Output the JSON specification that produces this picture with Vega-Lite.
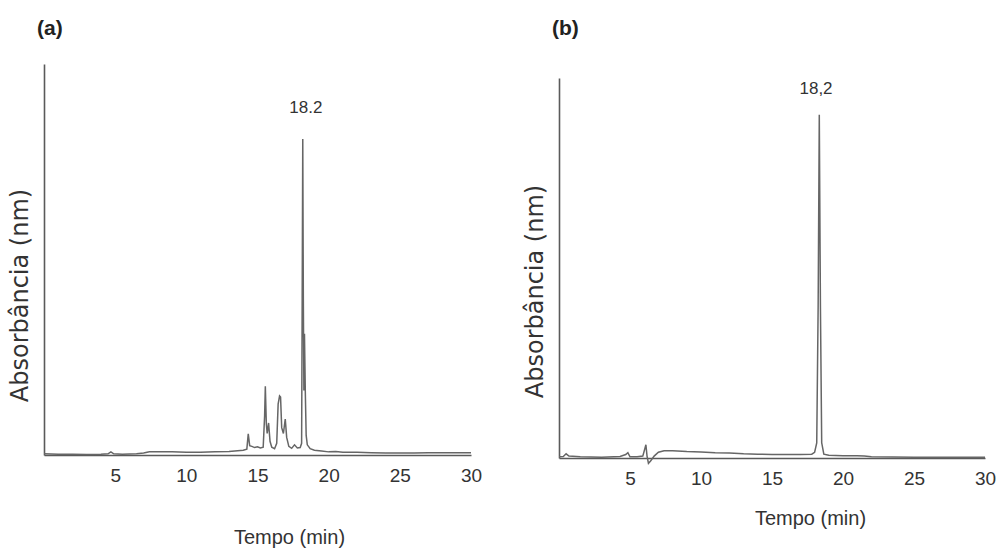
{
  "$schema": "https://vega.github.io/schema/vega-lite/v6.json",
  "background": "white",
  "padding": {"left": 8, "top": 18, "right": 5, "bottom": 5},
  "spacing": 41,
  "config": {
    "view": {"stroke": null},
    "axis": {"grid": false, "ticks": false, "tickSize": 0, "domainColor": "#5a5a5a", "domainWidth": 1.6, "labelColor": "#333", "titleColor": "#333", "titleFontWeight": "normal"},
    "axisX": {"labelFont": "Liberation Sans", "labelFontSize": 19, "labelPadding": 11, "titleFont": "Liberation Sans", "titleFontSize": 20, "labelFlush": false},
    "axisY": {"labels": false, "titleFont": "DejaVu Sans", "titleFontSize": 24, "titlePadding": 12}
  },
  "datasets": {
    "a": [
      {"t": 0, "v": 0.3}, {"t": 1, "v": 0.2}, {"t": 2, "v": 0.2}, {"t": 3, "v": 0.1}, {"t": 4, "v": 0.2},
      {"t": 4.5, "v": 0.3}, {"t": 4.7, "v": 0.8}, {"t": 4.9, "v": 0.3}, {"t": 5.5, "v": 0.2}, {"t": 6.5, "v": 0.3},
      {"t": 7.0, "v": 0.5}, {"t": 7.4, "v": 0.8}, {"t": 8, "v": 0.8}, {"t": 9, "v": 0.8}, {"t": 10, "v": 0.7},
      {"t": 11, "v": 0.7}, {"t": 12, "v": 0.8}, {"t": 13, "v": 0.9}, {"t": 13.6, "v": 1.1}, {"t": 14.0, "v": 1.2},
      {"t": 14.25, "v": 1.5}, {"t": 14.35, "v": 5.4}, {"t": 14.45, "v": 2.4}, {"t": 14.6, "v": 2.2}, {"t": 14.8, "v": 1.9},
      {"t": 15.0, "v": 2.1}, {"t": 15.2, "v": 1.8}, {"t": 15.4, "v": 2.0}, {"t": 15.5, "v": 10}, {"t": 15.55, "v": 17.6},
      {"t": 15.62, "v": 8}, {"t": 15.68, "v": 5.5}, {"t": 15.78, "v": 8.2}, {"t": 15.88, "v": 3.5}, {"t": 16.0, "v": 2.0},
      {"t": 16.2, "v": 1.6}, {"t": 16.35, "v": 3}, {"t": 16.45, "v": 13}, {"t": 16.55, "v": 15.1}, {"t": 16.62, "v": 14.8},
      {"t": 16.7, "v": 7}, {"t": 16.82, "v": 5.5}, {"t": 16.95, "v": 9.2}, {"t": 17.05, "v": 4.5}, {"t": 17.2, "v": 2.2},
      {"t": 17.4, "v": 1.7}, {"t": 17.6, "v": 2.6}, {"t": 17.8, "v": 1.8}, {"t": 18.0, "v": 1.9}, {"t": 18.1, "v": 3},
      {"t": 18.14, "v": 40}, {"t": 18.18, "v": 80.8}, {"t": 18.22, "v": 40}, {"t": 18.26, "v": 16.5}, {"t": 18.3, "v": 31},
      {"t": 18.36, "v": 16}, {"t": 18.42, "v": 5}, {"t": 18.5, "v": 2.6}, {"t": 18.7, "v": 1.6}, {"t": 19.0, "v": 1.2},
      {"t": 19.5, "v": 1.0}, {"t": 20, "v": 0.8}, {"t": 20.5, "v": 0.9}, {"t": 21, "v": 0.7}, {"t": 22, "v": 0.7},
      {"t": 23, "v": 0.6}, {"t": 24, "v": 0.5}, {"t": 25, "v": 0.5}, {"t": 26, "v": 0.5}, {"t": 27, "v": 0.6},
      {"t": 28, "v": 0.6}, {"t": 29, "v": 0.6}, {"t": 30, "v": 0.6}
    ],
    "b": [
      {"t": 0, "v": 0.3}, {"t": 0.3, "v": 0.4}, {"t": 0.5, "v": 1.1}, {"t": 0.7, "v": 0.5}, {"t": 1.5, "v": 0.3},
      {"t": 3, "v": 0.2}, {"t": 4.3, "v": 0.4}, {"t": 4.7, "v": 0.9}, {"t": 4.85, "v": 1.4}, {"t": 5.0, "v": 0.3},
      {"t": 5.5, "v": 0.3}, {"t": 5.9, "v": 0.5}, {"t": 6.05, "v": 2.5}, {"t": 6.12, "v": 3.5}, {"t": 6.2, "v": 0.5},
      {"t": 6.3, "v": -1.4}, {"t": 6.45, "v": -0.8}, {"t": 6.7, "v": 0.5}, {"t": 7.0, "v": 1.5}, {"t": 7.4, "v": 1.9},
      {"t": 8, "v": 1.9}, {"t": 9, "v": 1.7}, {"t": 10, "v": 1.6}, {"t": 11, "v": 1.4}, {"t": 12, "v": 1.3},
      {"t": 13, "v": 1.1}, {"t": 14, "v": 1.0}, {"t": 15, "v": 0.9}, {"t": 16, "v": 0.9}, {"t": 17, "v": 0.9},
      {"t": 17.8, "v": 1.0}, {"t": 18.0, "v": 1.5}, {"t": 18.15, "v": 4}, {"t": 18.25, "v": 40}, {"t": 18.33, "v": 90.3},
      {"t": 18.41, "v": 40}, {"t": 18.5, "v": 4}, {"t": 18.65, "v": 1.0}, {"t": 19, "v": 0.7}, {"t": 20, "v": 0.6},
      {"t": 21, "v": 0.6}, {"t": 21.5, "v": 0.5}, {"t": 22, "v": 0.3}, {"t": 25, "v": 0.2}, {"t": 30, "v": 0.2}
    ],
    "la": [{"t": 18.4, "v": 88.7, "label": "18.2"}],
    "lb": [{"t": 18.1, "v": 97.1, "label": "18,2"}]
  },
  "hconcat": [
    {
      "width": 427,
      "height": 391,
      "title": {"text": "(a)", "anchor": "start", "frame": "group", "font": "Liberation Sans", "fontSize": 21, "fontWeight": "bold", "color": "#222", "offset": 25, "dx": -7},
      "layer": [
        {
          "data": {"name": "a"},
          "mark": {"type": "line", "color": "#666", "strokeWidth": 1.5},
          "encoding": {
            "x": {"field": "t", "type": "quantitative", "scale": {"domain": [0, 30], "nice": false, "zero": false}, "axis": {"values": [5, 10, 15, 20, 25, 30], "title": "Tempo (min)", "titlePadding": 42, "titleX": 245}},
            "y": {"field": "v", "type": "quantitative", "scale": {"domain": [0, 100], "nice": false}, "axis": {"title": "Absorbância (nm)", "titleY": 231}}
          }
        },
        {
          "data": {"name": "la"},
          "mark": {"type": "text", "font": "Liberation Sans", "fontSize": 17, "color": "#333"},
          "encoding": {
            "x": {"field": "t", "type": "quantitative"},
            "y": {"field": "v", "type": "quantitative"},
            "text": {"field": "label"}
          }
        }
      ]
    },
    {
      "width": 426,
      "height": 394,
      "title": {"text": "(b)", "anchor": "start", "frame": "group", "font": "Liberation Sans", "fontSize": 21, "fontWeight": "bold", "color": "#222", "offset": 25, "dx": -7},
      "layer": [
        {
          "data": {"name": "b"},
          "mark": {"type": "line", "color": "#666", "strokeWidth": 1.5},
          "encoding": {
            "x": {"field": "t", "type": "quantitative", "scale": {"domain": [0, 30], "nice": false, "zero": false}, "axis": {"values": [5, 10, 15, 20, 25, 30], "title": "Tempo (min)", "titlePadding": 20, "titleX": 251}},
            "y": {"field": "v", "type": "quantitative", "scale": {"domain": [0, 100], "range": [394, 14], "nice": false}, "axis": {"title": "Absorbância (nm)", "titleY": 227}}
          }
        },
        {
          "data": {"name": "lb"},
          "mark": {"type": "text", "font": "Liberation Sans", "fontSize": 17, "color": "#333"},
          "encoding": {
            "x": {"field": "t", "type": "quantitative"},
            "y": {"field": "v", "type": "quantitative"},
            "text": {"field": "label"}
          }
        }
      ]
    }
  ]
}
